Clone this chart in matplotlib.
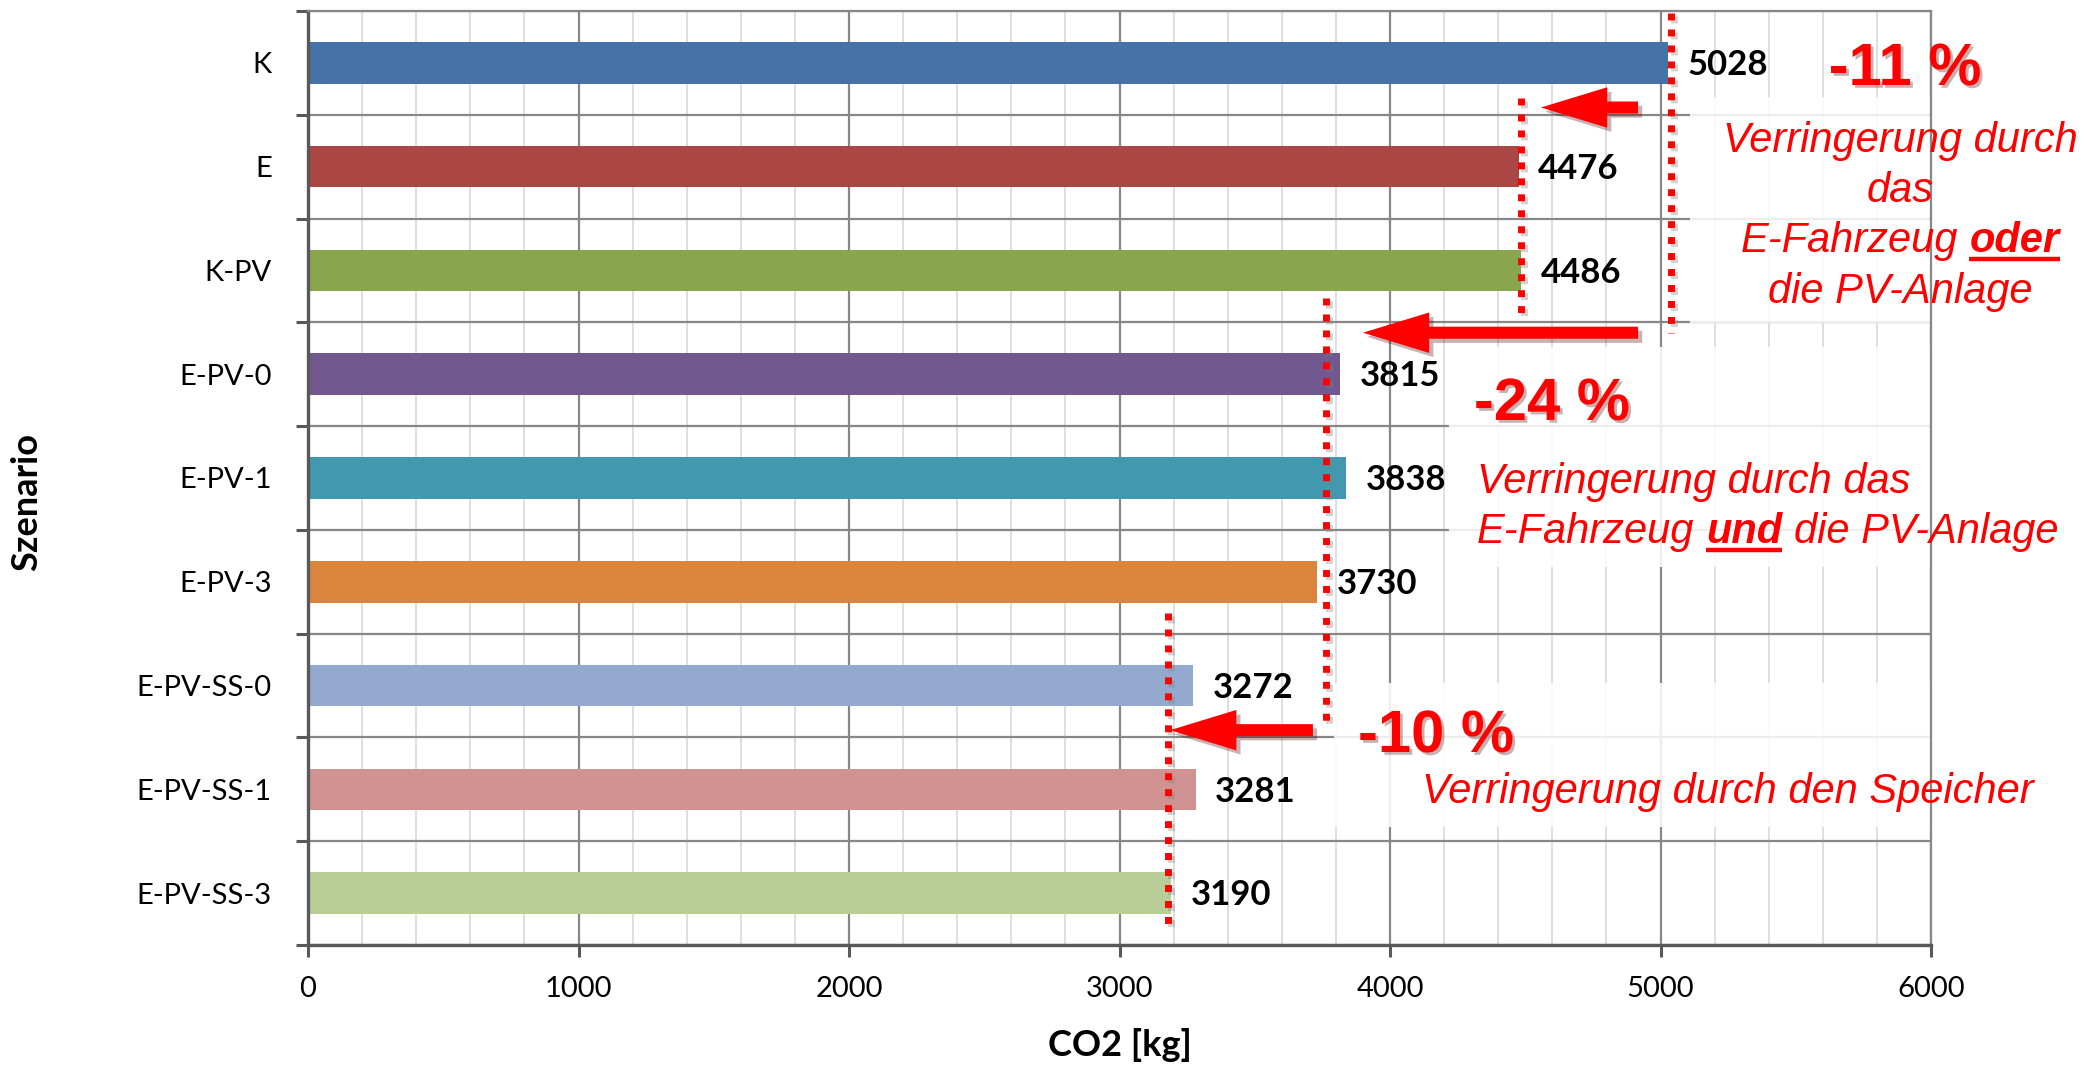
import matplotlib

matplotlib.use("Agg")
import matplotlib.pyplot as plt
import matplotlib.patheffects as pe
from matplotlib.patches import FancyArrow, Rectangle
from matplotlib.lines import Line2D
from matplotlib.transforms import IdentityTransform
import numpy as np

W, H, DPI = 2091, 1066, 100

scenarios = ["K", "E", "K-PV", "E-PV-0", "E-PV-1", "E-PV-3",
             "E-PV-SS-0", "E-PV-SS-1", "E-PV-SS-3"]
co2_kg = [5028, 4476, 4486, 3815, 3838, 3730, 3272, 3281, 3190]
bar_colors = ["#4572A7", "#AA4643", "#89A54E", "#71588F", "#4198AF",
              "#DB843D", "#93A9CF", "#D19392", "#B9CD96"]
x_ticks = [0, 1000, 2000, 3000, 4000, 5000, 6000]

# red dotted guides: x, y from, y to (data units)
guides = [(5040, -0.48, 2.60), (4486, 0.34, 2.41),
          (3765, 2.27, 6.35), (3180, 5.30, 8.31)]
# reduction arrows: tail x, tip x, y
arrows = [(4917, 4558, 0.43), (4917, 3900, 2.60), (3715, 3187, 6.43)]

pct_labels = ["-11 %", "-24 %", "-10 %"]
pct_pos = [(1905, 85), (1552, 420), (1436, 752)]   # px: centre x, baseline (from top)

RED = "#FF0000"
LABEL_FONT = ["Lato", "DejaVu Sans"]
NOTE_FONT = ["Liberation Sans", "DejaVu Sans"]

fig = plt.figure(figsize=(W / DPI, H / DPI), dpi=DPI)
L, R, T, B = 308, 1931, 11, 945
ax = fig.add_axes([L / W, 1 - B / H, (R - L) / W, (B - T) / H])

y = np.arange(len(scenarios))
ax.barh(y, co2_kg, height=0.4, color=bar_colors, zorder=2)
ax.set_xlim(0, 6000)
ax.set_ylim(len(scenarios) - 0.5, -0.5)

# grid: major every 1000, minor every 200, category separators
ax.set_axisbelow(True)
ax.set_xticks(x_ticks)
ax.set_xticks(np.arange(0, 6001, 200), minor=True)
ax.set_yticks(y)
ax.set_yticklabels(scenarios)
ax.set_yticks(np.arange(-0.5, len(scenarios), 1), minor=True)
ax.grid(which="major", axis="x", color="#878787", lw=1.6)
ax.grid(which="minor", axis="x", color="#d9d9d9", lw=1.2)
ax.grid(which="minor", axis="y", color="#878787", lw=1.6)
ax.tick_params(axis="x", which="major", length=8.5, width=2.2, color="#595959",
               pad=14, labelsize=21)
ax.tick_params(axis="x", which="minor", length=0)
ax.tick_params(axis="y", which="major", length=0, pad=26, labelsize=21)
ax.tick_params(axis="y", which="minor", length=8.5, width=2.2, color="#595959")
for lab in ax.get_xticklabels() + ax.get_yticklabels():
    lab.set_family(LABEL_FONT)
for side in ("left", "bottom"):
    ax.spines[side].set_color("#595959")
    ax.spines[side].set_linewidth(2.4)
for side in ("top", "right"):
    ax.spines[side].set_color("#878787")
    ax.spines[side].set_linewidth(1.6)

# value labels
for yi, v in zip(y, co2_kg):
    ax.annotate(f"{v}", xy=(v, yi), xytext=(14, -8.8), textcoords="offset points",
                ha="left", va="baseline", fontsize=25, fontweight="bold",
                family=LABEL_FONT, zorder=5)

# white backing behind the notes (grid shows through faintly)
for x0, y0, x1, y1 in [(1690, 97, 2091, 323), (1449, 347, 2091, 567),
                       (1334, 683, 2091, 827)]:
    ax.add_patch(Rectangle((x0 / W, 1 - y1 / H), (x1 - x0) / W, (y1 - y0) / H,
                           transform=fig.transFigure, facecolor="white",
                           edgecolor="none", alpha=0.86, zorder=1))

for gx, y0, y1 in guides:
    ax.plot([gx, gx], [y0, y1], color=RED, lw=5, linestyle=(0, (1.0, 1.3)),
            clip_on=False, zorder=4,
            path_effects=[pe.SimpleLineShadow(offset=(2, -2), shadow_color="gray",
                                              alpha=0.35), pe.Normal()])

for tail, tip, ay in arrows:
    ax.add_patch(FancyArrow(tail, ay, tip - tail, 0, width=0.116, head_width=0.39,
                            head_length=245, length_includes_head=True,
                            color=RED, lw=0, clip_on=False, zorder=6,
                            path_effects=[pe.withSimplePatchShadow(
                                offset=(3, -3), alpha=0.3)]))

for s, (px, py) in zip(pct_labels, pct_pos):
    fig.text(px / W, 1 - py / H, s, ha="center", va="baseline", fontsize=43,
             fontweight="bold", color=RED, family=NOTE_FONT,
             path_effects=[pe.withSimplePatchShadow(offset=(2, -2),
                                                    shadow_rgbFace="#602020",
                                                    alpha=0.35)])

renderer = fig.canvas.get_renderer()


def note_line(x, base, parts, ha="center", size=30):
    """Red italic line made of (text, weight, underline) pieces, pixel coords."""
    em = size * DPI / 72
    gap = 0.278 * em
    arts, widths = [], []
    for s, weight, _ in parts:
        t = fig.text(0, 0, s, transform=IdentityTransform(), ha="left",
                     va="baseline", fontsize=size, style="italic",
                     fontweight=weight, color=RED, family=NOTE_FONT)
        arts.append(t)
        widths.append(t.get_window_extent(renderer).width)
    total = sum(widths) + gap * (len(parts) - 1)
    cx = x - total / 2 if ha == "center" else x
    yb = H - base
    for t, w, (_, _, under) in zip(arts, widths, parts):
        t.set_position((cx, yb))
        if under:
            fig.add_artist(Line2D([cx, cx + w], [yb - 0.17 * em] * 2,
                                  transform=IdentityTransform(), color=RED,
                                  lw=3.2, solid_capstyle="butt"))
        cx += w + gap


note_line(1900, 152, [("Verringerung durch", "normal", False)])
note_line(1900, 202, [("das", "normal", False)])
note_line(1900, 252, [("E-Fahrzeug", "normal", False), ("oder", "bold", True)])
note_line(1900, 303, [("die PV-Anlage", "normal", False)])
note_line(1477, 493, [("Verringerung durch das", "normal", False)], ha="left")
note_line(1477, 543, [("E-Fahrzeug", "normal", False), ("und", "bold", True),
                      ("die PV-Anlage", "normal", False)], ha="left")
note_line(1728, 803, [("Verringerung durch den Speicher", "normal", False)])

fig.text(27 / W, 1 - 502 / H, "Szenario", rotation=90, ha="center", va="center",
         fontsize=26, fontweight="bold", family=LABEL_FONT)
fig.text(1120 / W, 1 - 1045 / H, "CO2 [kg]", ha="center", va="center",
         fontsize=26, fontweight="bold", family=LABEL_FONT)

fig.savefig("out.png", dpi=DPI, facecolor="white")
